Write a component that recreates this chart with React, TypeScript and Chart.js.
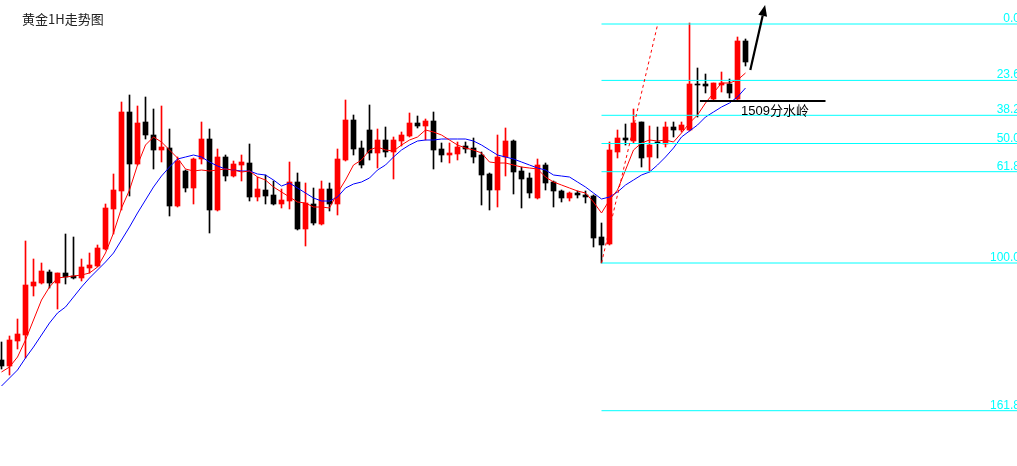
import React, { useEffect, useRef } from "react";
import { Chart, registerables } from "chart.js";

Chart.register(...registerables);

// ---- data (gold 1H) ----
const opens = [
  1457.2, 1456.0, 1461.0, 1462.2, 1472.0, 1472.6, 1474.8, 1472.6, 1474.6, 1474.0,
  1473.6, 1475.6, 1476.0, 1479.4, 1487.4, 1491.0, 1506.8, 1496.4, 1504.8, 1502.2,
  1499.2, 1499.6, 1488.0, 1495.0, 1491.6, 1497.4, 1501.4, 1487.2, 1497.8, 1494.0,
  1496.2, 1496.6, 1489.8, 1491.2, 1490.2, 1488.4, 1489.0, 1492.8, 1483.4, 1488.4,
  1484.4, 1491.4, 1488.4, 1497.2, 1505.2, 1499.6, 1503.2, 1498.6, 1501.2, 1498.8,
  1501.0, 1502.0, 1504.6, 1504.0, 1505.0, 1499.4, 1498.2, 1498.4, 1500.0, 1499.6,
  1498.2, 1494.4, 1491.2, 1497.8, 1501.0, 1495.0, 1493.6, 1489.6, 1496.2, 1492.8,
  1491.0, 1489.6, 1490.6, 1490.2, 1490.0, 1481.8, 1480.4, 1498.8, 1501.6, 1501.0,
  1504.8, 1497.8, 1500.8, 1500.4, 1503.8, 1503.2, 1503.2, 1512.4, 1512.4, 1509.4,
  1512.2, 1512.4, 1509.4, 1521.0,
];
const highs = [
  1460.8, 1462.0, 1465.4, 1481.0, 1477.4, 1476.6, 1475.2, 1474.6, 1482.4, 1481.8,
  1477.4, 1478.6, 1480.2, 1488.4, 1494.4, 1508.8, 1510.2, 1508.0, 1509.8, 1507.4,
  1508.0, 1503.4, 1497.8, 1495.2, 1497.6, 1504.8, 1503.4, 1499.4, 1498.2, 1497.0,
  1498.2, 1500.4, 1493.8, 1494.2, 1493.0, 1491.4, 1496.8, 1494.6, 1492.6, 1491.6,
  1493.0, 1492.6, 1499.4, 1509.2, 1506.2, 1501.0, 1508.2, 1503.4, 1503.8, 1501.8,
  1502.8, 1506.6, 1506.0, 1505.4, 1506.8, 1500.6, 1500.6, 1500.8, 1500.8, 1501.6,
  1498.8, 1494.6, 1502.2, 1503.6, 1501.2, 1495.8, 1494.6, 1497.4, 1496.6, 1493.0,
  1491.2, 1490.8, 1491.0, 1491.0, 1490.2, 1484.6, 1500.8, 1503.2, 1504.4, 1507.4,
  1504.8, 1504.0, 1503.8, 1504.8, 1504.8, 1504.8, 1524.6, 1515.6, 1514.4, 1512.6,
  1514.8, 1513.4, 1521.8, 1521.4,
];
const lows = [
  1455.4, 1454.2, 1459.4, 1457.6, 1470.0, 1472.4, 1471.6, 1467.4, 1472.4, 1473.4,
  1473.0, 1474.6, 1475.8, 1479.2, 1482.4, 1487.2, 1490.0, 1496.2, 1501.4, 1495.4,
  1496.8, 1486.0, 1487.8, 1490.8, 1488.4, 1496.4, 1482.6, 1487.0, 1493.0, 1493.8,
  1493.0, 1489.0, 1489.0, 1488.4, 1488.2, 1487.6, 1487.4, 1483.2, 1480.0, 1484.2,
  1484.2, 1487.0, 1486.2, 1497.0, 1498.2, 1495.6, 1497.2, 1495.6, 1497.8, 1493.4,
  1500.0, 1501.8, 1503.6, 1501.2, 1495.4, 1496.8, 1496.6, 1497.2, 1498.6, 1496.6,
  1488.2, 1487.2, 1487.8, 1494.0, 1490.4, 1487.6, 1489.6, 1489.4, 1491.2, 1487.8,
  1488.8, 1489.0, 1489.6, 1488.6, 1479.8, 1476.6, 1480.2, 1497.6, 1500.2, 1500.6,
  1495.8, 1494.8, 1497.6, 1499.8, 1501.8, 1502.8, 1503.0, 1505.8, 1510.6, 1509.2,
  1510.8, 1509.6, 1509.2, 1516.0,
];
const closes = [
  1456.0, 1461.2, 1462.4, 1472.2, 1472.8, 1475.0, 1472.6, 1474.6, 1473.8, 1473.6,
  1475.8, 1476.2, 1479.6, 1487.6, 1491.2, 1506.8, 1496.4, 1504.6, 1502.2, 1499.2,
  1499.8, 1488.0, 1497.0, 1491.6, 1497.4, 1501.4, 1487.2, 1497.8, 1494.0, 1496.4,
  1496.8, 1489.8, 1491.4, 1490.0, 1488.4, 1489.2, 1492.8, 1483.4, 1488.6, 1484.6,
  1491.4, 1488.4, 1497.4, 1505.2, 1499.4, 1496.2, 1498.6, 1501.2, 1498.8, 1501.2,
  1502.2, 1504.6, 1504.0, 1505.0, 1499.2, 1498.2, 1498.6, 1499.8, 1499.4, 1497.8,
  1494.2, 1491.2, 1497.8, 1501.0, 1494.8, 1493.4, 1490.6, 1496.2, 1492.6, 1491.0,
  1489.6, 1490.6, 1490.2, 1489.8, 1481.6, 1480.2, 1499.2, 1501.6, 1501.2, 1504.6,
  1497.6, 1500.2, 1500.6, 1503.8, 1503.2, 1504.2, 1512.4, 1512.2, 1512.0, 1512.6,
  1512.6, 1510.6, 1521.0, 1516.8,
];
// fast moving average (red)
const maFast = [
  1454.8, 1455.8, 1457.8, 1461.2, 1465.2, 1469.2, 1471.8, 1473.6, 1473.8, 1474.0,
  1474.2, 1474.6, 1475.8, 1478.6, 1482.6, 1487.6, 1491.2, 1496.2, 1500.2, 1501.8,
  1500.8, 1499.2, 1497.6, 1495.4, 1495.0, 1495.2, 1495.0, 1495.2, 1495.4, 1495.2,
  1494.8, 1495.0, 1493.8, 1493.2, 1491.8, 1490.8, 1489.8, 1488.8, 1488.6, 1487.8,
  1487.8, 1487.6, 1490.6, 1493.2, 1496.2, 1497.2, 1499.2, 1499.8, 1499.2, 1499.0,
  1500.2, 1501.2, 1501.8, 1503.2, 1502.8, 1502.2, 1501.2, 1500.2, 1499.6, 1499.2,
  1498.6, 1496.8, 1496.6, 1496.6, 1496.2, 1495.8, 1495.6, 1495.4, 1493.8, 1492.8,
  1492.2, 1491.6, 1491.0, 1490.6, 1488.8, 1486.6, 1489.2, 1491.2, 1495.2, 1499.2,
  1500.6, 1501.2, 1501.0, 1501.2, 1500.8, 1502.6, 1504.6, 1506.2, 1508.6, 1510.6,
  1512.6, 1512.6, 1513.2, 1514.6,
];
// slow moving average (blue)
const maSlow = [
  1452.0, 1453.6, 1455.2, 1457.6, 1459.8, 1462.2, 1464.6, 1466.6, 1467.8, 1469.8,
  1471.8, 1473.6, 1475.2, 1476.8, 1478.6, 1481.2, 1483.8, 1486.6, 1489.2, 1491.8,
  1494.0, 1495.8, 1497.4, 1497.8, 1498.2, 1497.8, 1496.8, 1496.0, 1495.4, 1495.2,
  1495.0, 1495.0, 1494.4, 1494.2, 1493.2, 1492.0, 1492.6, 1491.6, 1490.6, 1489.6,
  1489.0, 1489.0, 1489.8, 1491.6, 1492.4, 1492.8, 1493.6, 1495.2, 1496.2, 1497.8,
  1499.2, 1500.2, 1501.0, 1501.2, 1501.2, 1501.4, 1501.4, 1501.4, 1501.4, 1501.0,
  1500.2, 1499.2, 1498.2, 1497.8, 1497.4, 1496.8, 1496.2, 1495.6, 1495.2, 1494.2,
  1494.0, 1493.8, 1492.8, 1491.8, 1490.6, 1489.4, 1489.8, 1490.8, 1492.2, 1493.2,
  1494.2, 1494.8, 1496.2, 1497.8, 1499.6, 1501.8, 1503.0, 1504.2, 1505.8, 1506.8,
  1507.8, 1508.6, 1509.8, 1511.6,
];

// Fibonacci retracement
const fibRatios = [0, 23.6, 38.2, 50, 61.8, 100, 161.8];
const fibLabels = ["0.0", "23.6", "38.2", "50.0", "61.8", "100.0", "161.8"];
const fibHigh = 1524.4;
const fibLow = 1476.6;
const fibStartIndex = 75;

// annotations
const trendFrom = { x: 75, y: 1476.6 };
const trendTo = { x: 82, y: 1524.2 };
const keyLevel = 1509;
const keyLevelFrom = 87.3;
const keyLevelTo = 103;
const keyLabel = "1509分水岭";
const keyLabelAt = { x: 92.45, y: 1508.3 };
const arrowFrom = { x: 93.6, y: 1515.2 };
const arrowTo = { x: 95.45, y: 1528.2 };
const chartTitle = "黄金1H走势图";

// view
const X_MIN = -0.1875;
const X_MAX = 126.9375;
const Y_MIN = 1436.0;
const Y_MAX = 1529.2;

const UP = "#FF0000";
const DOWN = "#000000";
const FIB = "#00FFFF";

const fibLevel = (r: number) => fibHigh - ((fibHigh - fibLow) * r) / 100;

const overlayPlugin = {
  id: "overlay",
  afterDatasetsDraw(chart: any) {
    const { ctx } = chart;
    const x = chart.scales.x;
    const y = chart.scales.y;
    ctx.save();
    // fib labels
    ctx.fillStyle = FIB;
    ctx.font = '12px "Liberation Sans", Arial, sans-serif';
    ctx.textAlign = "right";
    ctx.textBaseline = "alphabetic";
    fibRatios.forEach((r, i) => {
      const py = y.getPixelForValue(fibLevel(r));
      ctx.fillText(fibLabels[i], chart.width + 3, py - 2);
    });
    // key level label
    ctx.fillStyle = "#000";
    ctx.font = '13px "Liberation Sans", "Noto Sans CJK SC", sans-serif';
    ctx.textAlign = "left";
    ctx.textBaseline = "top";
    ctx.fillText(keyLabel, x.getPixelForValue(keyLabelAt.x), y.getPixelForValue(keyLabelAt.y));
    // arrow
    const x1 = x.getPixelForValue(arrowFrom.x);
    const y1 = y.getPixelForValue(arrowFrom.y);
    const x2 = x.getPixelForValue(arrowTo.x);
    const y2 = y.getPixelForValue(arrowTo.y);
    const ang = Math.atan2(y2 - y1, x2 - x1);
    const headLen = 11;
    const headHalf = 4.5;
    const bx = x2 - headLen * Math.cos(ang);
    const by = y2 - headLen * Math.sin(ang);
    ctx.strokeStyle = "#000";
    ctx.lineWidth = 2.2;
    ctx.beginPath();
    ctx.moveTo(x1, y1);
    ctx.lineTo(bx, by);
    ctx.stroke();
    ctx.fillStyle = "#000";
    ctx.beginPath();
    ctx.moveTo(x2, y2);
    ctx.lineTo(bx + headHalf * Math.sin(ang), by - headHalf * Math.cos(ang));
    ctx.lineTo(bx - headHalf * Math.sin(ang), by + headHalf * Math.cos(ang));
    ctx.closePath();
    ctx.fill();
    // title
    ctx.fillStyle = "#222";
    ctx.font = '13px "Noto Sans CJK SC", sans-serif';
    ctx.textAlign = "left";
    ctx.textBaseline = "top";
    ctx.fillText(chartTitle, 22, 13);
    ctx.restore();
  },
};

export default function App() {
  const canvasRef = useRef<HTMLCanvasElement | null>(null);

  useEffect(() => {
    if (!canvasRef.current) return;
    const idx = opens.map((_, i) => i);
    const colors = idx.map((i) => (closes[i] >= opens[i] ? UP : DOWN));

    const fibSets = fibRatios.map((r) => ({
      type: "line" as const,
      data: [
        { x: fibStartIndex, y: fibLevel(r) },
        { x: X_MAX, y: fibLevel(r) },
      ],
      borderColor: FIB,
      borderWidth: 1,
      pointRadius: 0,
      fill: false,
      order: 5,
    }));

    const chart = new Chart(canvasRef.current, {
      type: "bar",
      data: {
        datasets: [
          {
            type: "bar",
            data: idx.map((i) => ({ x: i, y: [lows[i], highs[i]] })),
            backgroundColor: colors,
            borderWidth: 0,
            barThickness: 1,
            grouped: false,
            order: 20,
          } as any,
          {
            type: "bar",
            data: idx.map((i) => ({ x: i, y: [opens[i], closes[i]] })),
            backgroundColor: colors,
            borderWidth: 0,
            barThickness: 5,
            grouped: false,
            order: 19,
          } as any,
          {
            type: "line",
            data: idx.map((i) => ({ x: i, y: maSlow[i] })),
            borderColor: "#0000FF",
            borderWidth: 1,
            pointRadius: 0,
            tension: 0,
            fill: false,
            order: 8,
          },
          {
            type: "line",
            data: idx.map((i) => ({ x: i, y: maFast[i] })),
            borderColor: "#FF0000",
            borderWidth: 1,
            pointRadius: 0,
            tension: 0,
            fill: false,
            order: 7,
          },
          ...fibSets,
          {
            type: "line",
            data: [trendFrom, trendTo],
            borderColor: "#FF0000",
            borderWidth: 1,
            borderDash: [3, 3],
            pointRadius: 0,
            fill: false,
            order: 4,
          },
          {
            type: "line",
            data: [
              { x: keyLevelFrom, y: keyLevel },
              { x: keyLevelTo, y: keyLevel },
            ],
            borderColor: "#000000",
            borderWidth: 2,
            pointRadius: 0,
            fill: false,
            order: 3,
          },
        ] as any,
      },
      options: {
        animation: false,
        responsive: true,
        maintainAspectRatio: false,
        devicePixelRatio: 1,
        events: [],
        layout: { padding: 0 },
        plugins: {
          legend: { display: false },
          tooltip: { enabled: false },
          title: { display: false },
        },
        scales: {
          x: { type: "linear", min: X_MIN, max: X_MAX, display: false, offset: false },
          y: { type: "linear", min: Y_MIN, max: Y_MAX, display: false },
        },
      },
      plugins: [overlayPlugin],
    });
    return () => chart.destroy();
  }, []);

  return (
    <div
      style={{
        position: "fixed",
        left: 0,
        top: 0,
        width: 1017,
        height: 466,
        background: "#fff",
      }}
    >
      <canvas ref={canvasRef} />
    </div>
  );
}
